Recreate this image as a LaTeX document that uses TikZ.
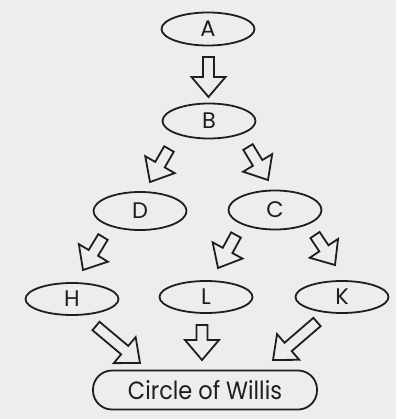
\documentclass[tikz,border=0pt]{standalone}
\usepackage{fontspec}
\setmainfont{Poppins}
\usetikzlibrary{shapes.geometric,calc}
\definecolor{paper}{HTML}{EDEDEB}
\definecolor{ink}{HTML}{1E1E22}
\newcommand{\shafthw}{5.5pt}
\newcommand{\headhw}{17pt}
\newcommand{\headlen}{20pt}
\newcommand{\barrow}[2]{%
  \coordinate (hb) at ($(#2)!\headlen!(#1)$);
  \draw[blockarrow] ($(#1)!\shafthw!90:(#2)$) -- ($(hb)!\shafthw!90:(#2)$)
    -- ($(hb)!\headhw!90:(#2)$) -- (#2) -- ($(hb)!\headhw!-90:(#2)$)
    -- ($(hb)!\shafthw!-90:(#2)$) -- ($(#1)!\shafthw!-90:(#2)$) -- cycle;}
\tikzset{
  oval/.style={ellipse, draw=ink, line width=1.8pt, inner sep=0pt,
    minimum width=93pt, minimum height=35pt, text=ink,
    font=\fontsize{22.5}{22.5}\selectfont},
  finalbox/.style={rectangle, rounded corners=19pt, draw=ink, line width=1.8pt,
    inner sep=0pt, minimum width=224pt, minimum height=39pt, text=ink,
    font=\fontsize{25}{25}\selectfont},
  blockarrow/.style={draw=ink, line width=1.8pt, line join=miter, fill=none},
}
\begin{document}
\begin{tikzpicture}[x=1pt,y=-1pt]
\fill[paper] (0,0) rectangle (396,419);
\useasboundingbox (0,0) rectangle (396,419);
% nodes
\node[oval, minimum height=33pt] (A) at (208,29) {A};
\node[oval] (B) at (209,121) {B};
\node[oval, minimum height=38pt] (D) at (140,211) {D};
\node[oval, minimum height=39pt] (C) at (275,210) {C};
\node[oval, minimum height=32pt] (H) at (72,299) {H};
\node[oval, minimum height=32pt] (L) at (206,297) {L};
\node[oval, minimum height=32pt] (K) at (342,297) {K};
\node[finalbox] (W) at (205,390) {\scalebox{0.9}[1]{Circle of Willis}};
% arrow end points
\coordinate (ab1) at (208.5,57);  \coordinate (ab2) at (208.5,97);
\coordinate (bd1) at (169,149);   \coordinate (bd2) at (150,182);
\coordinate (bc1) at (248,147);   \coordinate (bc2) at (268,180);
\coordinate (dh1) at (103,237);   \coordinate (dh2) at (83,270);
\coordinate (cl1) at (236,235);   \coordinate (cl2) at (218,268);
\coordinate (ck1) at (315,235);   \coordinate (ck2) at (335,265);
\coordinate (hw1) at (96,326);    \coordinate (hw2) at (140,363);
\coordinate (lw1) at (202,325);   \coordinate (lw2) at (202,360);
\coordinate (kw1) at (317,322);   \coordinate (kw2) at (273,360);
% arrows
\barrow{ab1}{ab2}
\barrow{bd1}{bd2}
\barrow{bc1}{bc2}
\barrow{dh1}{dh2}
\barrow{cl1}{cl2}
\barrow{ck1}{ck2}
\barrow{hw1}{hw2}
\barrow{lw1}{lw2}
\barrow{kw1}{kw2}
\end{tikzpicture}
\end{document}
